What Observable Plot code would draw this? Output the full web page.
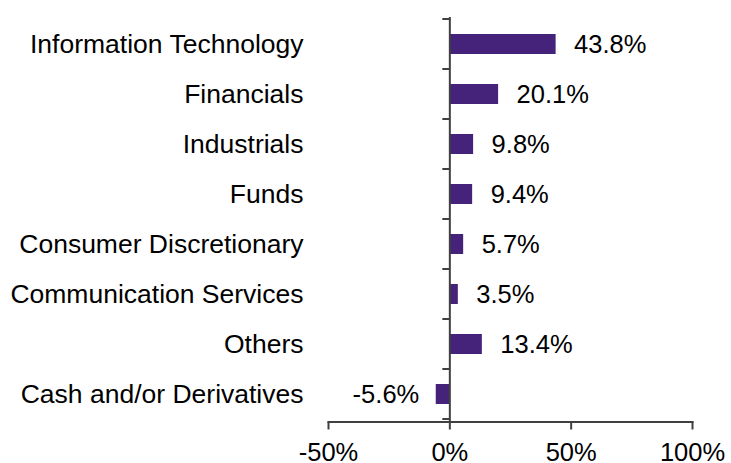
<!DOCTYPE html>
<html>
<head>
<meta charset="utf-8">
<script src="https://cdn.jsdelivr.net/npm/d3@7"></script>
<script src="https://cdn.jsdelivr.net/npm/@observablehq/plot@0.6"></script>
<style>
  html, body { margin: 0; padding: 0; background: #fff; }
  #chart svg { display: block; }
</style>
</head>
<body>
<div id="chart"></div>
<script>
const categories = ["Information Technology", "Financials", "Industrials", "Funds", "Consumer Discretionary", "Communication Services", "Others", "Cash and/or Derivatives"];
const values = [43.8, 20.1, 9.8, 9.4, 5.7, 3.5, 13.4, -5.6];
const valueLabels = ["43.8%", "20.1%", "9.8%", "9.4%", "5.7%", "3.5%", "13.4%", "-5.6%"];
const xTicks = [-50, 0, 50, 100];
const xTickLabels = ["-50%", "0%", "50%", "100%"];

const data = categories.map((c, i) => ({cat: c, value: values[i], label: valueLabels[i]}));
const axisColor = "#404040";
const barColor = "#46237a";
const fs = 25.5;
const fsCat = 26.5;

const bandTicks = (index, scales, values, dims) => {
  const {x, y} = scales;
  const step = y.step(), bw = y.bandwidth();
  const g = d3.create("svg:g").attr("stroke", axisColor).attr("stroke-width", 2);
  const edges = categories.map(c => y(c) - (step - bw) / 2);
  edges.push(edges[edges.length - 1] + step);
  const x0 = x(0);
  for (const e of edges) {
    g.append("line").attr("x1", x0 - 7).attr("x2", x0).attr("y1", e).attr("y2", e);
  }
  return g.node();
};

const chart = Plot.plot({
  width: 731,
  height: 463,
  marginLeft: 328,
  marginRight: 39,
  marginTop: 17,
  marginBottom: 41.5,
  style: {fontFamily: "'Liberation Sans', Arial, sans-serif", fontSize: fs + "px", background: "#fff", color: "#000"},
  x: {domain: [-50, 100], axis: null},
  y: {domain: categories, paddingInner: 0.6, paddingOuter: 0.3, axis: null},
  marks: [
    Plot.barX(data, {x: "value", y: "cat", fill: barColor}),
    Plot.ruleX([0], {stroke: axisColor, strokeWidth: 2}),
    bandTicks,
    Plot.frame({anchor: "bottom", stroke: axisColor, strokeWidth: 2}),
    Plot.axisX({ticks: xTicks, label: null, tickSize: 8, tickPadding: 13, tickFormat: d => xTickLabels[xTicks.indexOf(d)], fontSize: fs, stroke: axisColor, strokeWidth: 2, fill: "#000"}),
    Plot.text(data.filter(d => d.value >= 0), {x: "value", y: "cat", text: "label", textAnchor: "start", dx: 18, fontSize: fs, fill: "#000"}),
    Plot.text(data.filter(d => d.value < 0), {x: "value", y: "cat", text: "label", textAnchor: "end", dx: -17, fontSize: fs, fill: "#000"}),
    Plot.text(data, {y: "cat", text: "cat", frameAnchor: "left", textAnchor: "end", dx: -25, fontSize: fsCat, fill: "#000"})
  ]
});
document.getElementById("chart").appendChild(chart);
</script>
</body>
</html>
